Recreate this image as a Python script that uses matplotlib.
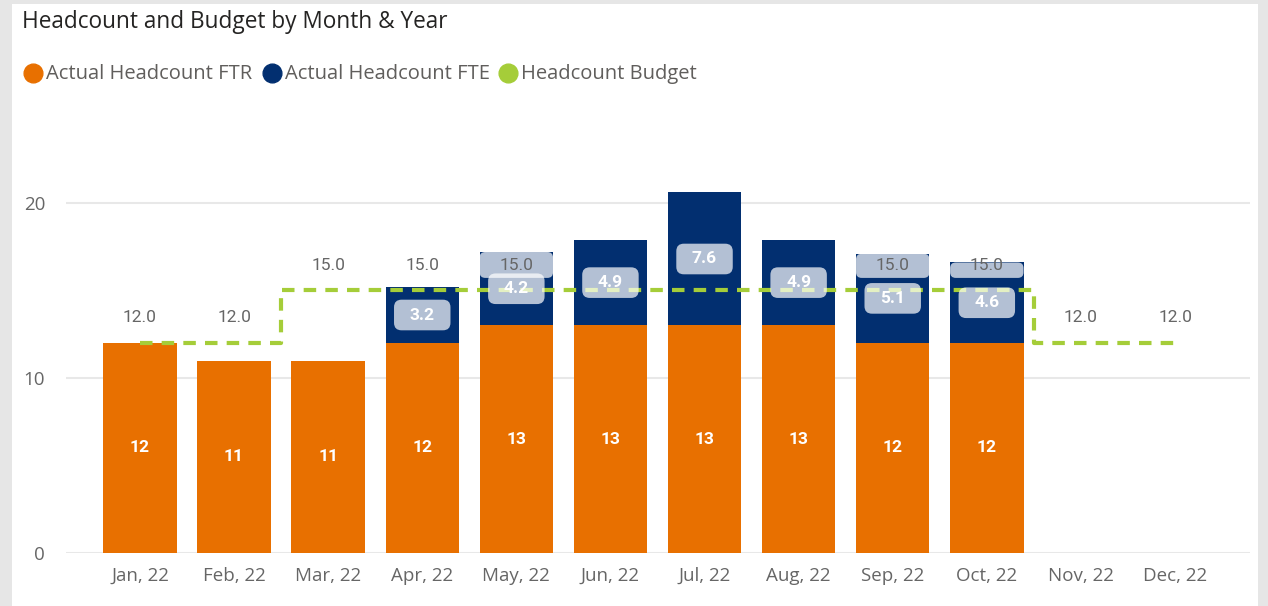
import numpy as np
import matplotlib.pyplot as plt
from matplotlib.patches import FancyBboxPatch, Rectangle
from matplotlib.lines import Line2D

# data
months = ['Jan, 22', 'Feb, 22', 'Mar, 22', 'Apr, 22', 'May, 22', 'Jun, 22',
          'Jul, 22', 'Aug, 22', 'Sep, 22', 'Oct, 22', 'Nov, 22', 'Dec, 22']
ftr = [12, 11, 11, 12, 13, 13, 13, 13, 12, 12, np.nan, np.nan]
fte = [0, 0, 0, 3.2, 4.2, 4.9, 7.6, 4.9, 5.1, 4.6, np.nan, np.nan]
budget = [12, 12, 15, 15, 15, 15, 15, 15, 15, 15, 12, 12]
series = ['Actual Headcount FTR', 'Actual Headcount FTE', 'Headcount Budget']

c_ftr = '#e87000'
c_fte = '#022f70'
c_bud = '#a5cd39'

plt.rcParams['font.family'] = ['Open Sans', 'DejaVu Sans']

fig = plt.figure(figsize=(12.68, 6.06), dpi=100)
fig.patch.set_facecolor('#e6e6e6')
fig.add_artist(Rectangle((12 / 1268, 0), (1258 - 12) / 1268, 1 - 4 / 606,
                         transform=fig.transFigure, fc='white', ec='none', zorder=0))

ax = fig.add_axes([66 / 1268, 53 / 606, (1250 - 66) / 1268, (553 - 115.5) / 606])
ax.set_facecolor('none')
x = np.arange(len(months))
w = 0.78
ftr_a = np.array(ftr, dtype=float)
fte_a = np.array(fte, dtype=float)
bud_a = np.array(budget, dtype=float)

ax.bar(x, ftr_a, w, color=c_ftr, zorder=2)
ax.bar(x, fte_a, w, bottom=ftr_a, color=c_fte, zorder=2)
ax.step(x, bud_a, where='mid', color=c_bud, lw=3, ls=(0, (3, 2.2)), zorder=3)

ax.set_xlim(-0.786, 11.797)
ax.set_ylim(0, 25)
ax.set_yticks([0, 10, 20])
ax.grid(axis='y', color='#e8e8e8', lw=1.5, zorder=0)
ax.set_xticks(x)
ax.set_xticklabels(months)
ax.tick_params(axis='both', length=0, colors='#666666', labelsize=13.5)
ax.tick_params(axis='x', pad=10)
ax.tick_params(axis='y', pad=15)
for s in ax.spines.values():
    s.set_visible(False)

asp = (1184 / 12.583) / 17.5  # px per x-unit / px per y-unit
lab_font = dict(family=['Roboto', 'DejaVu Sans'], fontsize=12.5)

for i in x:
    # FTR value in the middle of the orange segment
    if not np.isnan(ftr_a[i]):
        ax.text(i, ftr_a[i] / 2, f'{ftr_a[i]:.0f}', ha='center', va='center',
                color='white', fontweight='bold', zorder=5, **lab_font)
    # FTE value in a rounded translucent box
    if not np.isnan(fte_a[i]) and fte_a[i] > 0:
        yc = ftr_a[i] + fte_a[i] / 2
        bw, bh = 0.6, 1.75
        ax.add_patch(FancyBboxPatch((i - bw / 2, yc - bh / 2), bw, bh,
                                    boxstyle='round,pad=0,rounding_size=0.08',
                                    mutation_aspect=asp, fc='white', alpha=0.7,
                                    ec='none', zorder=4))
        ax.text(i, yc, f'{fte_a[i]:.1f}', ha='center', va='center',
                color='white', fontweight='bold', zorder=5, **lab_font)
    # budget label above the line
    top = np.nansum([ftr_a[i], fte_a[i]])
    ly = bud_a[i] + 1.45
    lb = bud_a[i] + 0.72
    if top > bud_a[i] + 2.3:
        continue
    if top > lb:
        ax.add_patch(FancyBboxPatch((i - w / 2, lb), w, top - lb,
                                    boxstyle='round,pad=0,rounding_size=0.06',
                                    mutation_aspect=asp, fc='white', alpha=0.7,
                                    ec='none', zorder=4))
    ax.text(i, ly, f'{bud_a[i]:.1f}', ha='center', va='center',
            color='#666666', zorder=5, **lab_font)

fig.text(22 / 1268, 1 - 22 / 606, 'Headcount and Budget by Month & Year',
         ha='left', va='center', fontsize=16.3, color='#252423')

# legend: dot + label, laid out like the report visual
leg_y = 1 - 74 / 606
for name, col, mx in zip(series, (c_ftr, c_fte, c_bud), (33, 272, 508)):
    fig.add_artist(Line2D([mx / 1268], [1 - 73 / 606], transform=fig.transFigure,
                          ls='none', marker='o', ms=13.5, color=col))
    fig.text((mx + 13) / 1268, leg_y, name, ha='left', va='center',
             fontsize=14.5, color='#605e5c')

fig.savefig('out.png', dpi=100, facecolor=fig.get_facecolor())
